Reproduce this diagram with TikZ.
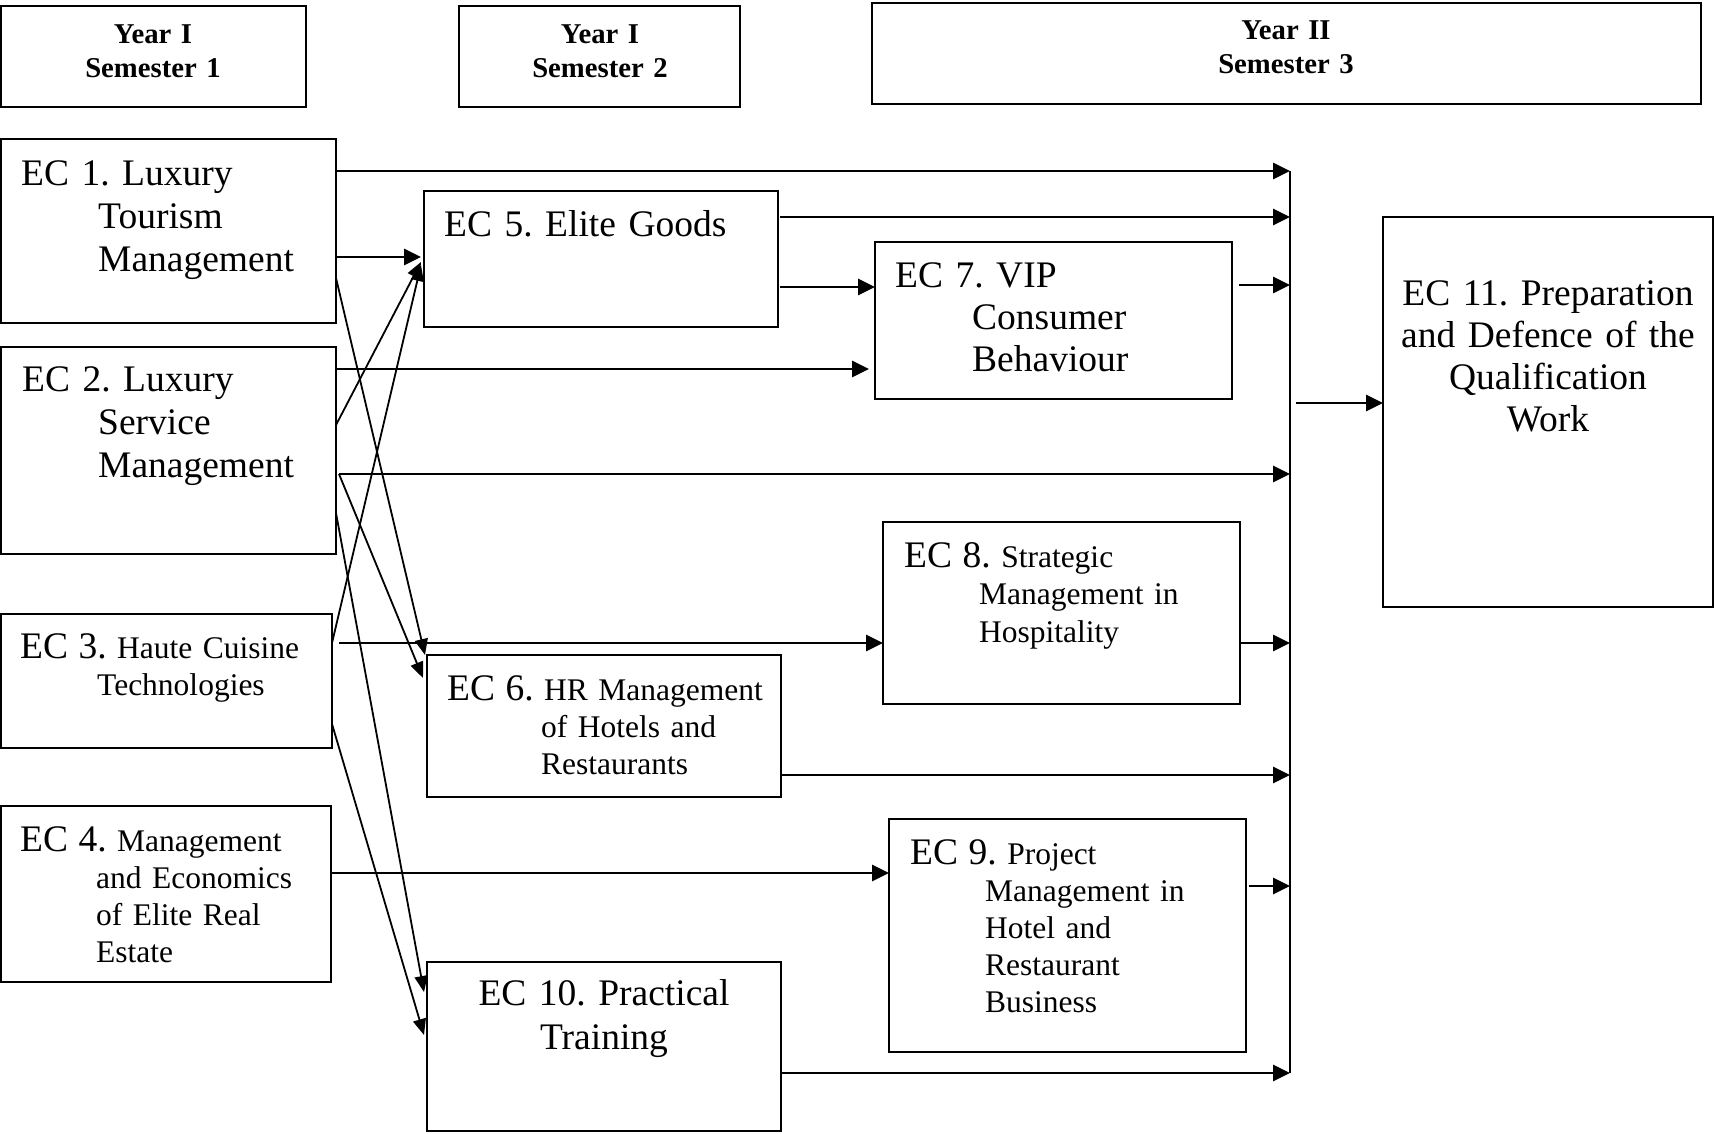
\documentclass[tikz,border=0pt]{standalone}
\usepackage{fontspec}
\setmainfont{Liberation Serif}
\usetikzlibrary{arrows.meta}
\frenchspacing
\newcommand{\bigf}{\fontsize{37.5}{43}\selectfont}
\newcommand{\smallf}{\fontsize{31.5}{37}\selectfont}
\begin{document}
\begin{tikzpicture}[x=1pt,y=-1pt,
  box/.style={draw,line width=1.7pt,inner sep=0pt,outer sep=0pt,anchor=north west},
  txt/.style={anchor=base west,inner sep=0pt,text width=420pt,align=left},
  ctxt/.style={anchor=base,inner sep=0pt,text width=420pt,align=center},
  hdr/.style={anchor=base,inner sep=0pt,text width=300pt,align=center,font=\fontsize{28.7}{34}\selectfont\bfseries},
  arr/.style={line width=2.8pt,-{Triangle[length=17pt,width=16pt]}},
  tarr/.style={line width=1.8pt,-{Triangle[length=16pt,width=13pt]}},
  busline/.style={line width=1.6pt}]
\useasboundingbox (0,0) rectangle (1715,1133);
% headers
\node[box,minimum width=305pt,minimum height=101pt] (h1) at (1,6) {};
\node[box,minimum width=281pt,minimum height=101pt] (h2) at (459,6) {};
\node[box,minimum width=829pt,minimum height=101pt] (h3) at (872,3) {};
\node[hdr] (h1t) at (153,43) {Year I\\Semester 1};
\node[hdr] (h2t) at (600,43) {Year I\\Semester 2};
\node[hdr] (h3t) at (1286,39) {Year II\\Semester 3};
% boxes
\node[box,minimum width=335pt,minimum height=184pt] (ec1) at (1,139) {};
\node[box,minimum width=335pt,minimum height=207pt] (ec2) at (1,347) {};
\node[box,minimum width=331pt,minimum height=134pt] (ec3) at (1,614) {};
\node[box,minimum width=330pt,minimum height=176pt] (ec4) at (1,806) {};
\node[box,minimum width=354pt,minimum height=136pt] (ec5) at (424,191) {};
\node[box,minimum width=354pt,minimum height=142pt] (ec6) at (427,655) {};
\node[box,minimum width=357pt,minimum height=157pt] (ec7) at (875,242) {};
\node[box,minimum width=357pt,minimum height=182pt] (ec8) at (883,522) {};
\node[box,minimum width=357pt,minimum height=233pt] (ec9) at (889,819) {};
\node[box,minimum width=354pt,minimum height=169pt] (ec10) at (427,962) {};
\node[box,minimum width=330pt,minimum height=390pt] (ec11) at (1383,217) {};
% texts
\node[txt,font=\bigf] (t1) at (21,185) {EC 1. Luxury\\\hspace*{77pt}Tourism\\\hspace*{77pt}Management};
\node[txt,font=\bigf] (t2) at (22,391) {EC 2. Luxury\\\hspace*{76pt}Service\\\hspace*{76pt}Management};
\node[txt,font=\smallf] (t3) at (20,658) {{\bigf EC 3.} Haute Cuisine\\\hspace*{77pt}Technologies};
\node[txt,font=\smallf] (t4) at (20,851) {{\bigf EC 4.} Management\\\hspace*{76pt}and Economics\\\hspace*{76pt}of Elite Real\\\hspace*{76pt}Estate};
\node[txt,font=\bigf] (t5) at (444,236) {EC 5. Elite Goods};
\node[txt,font=\smallf] (t6) at (447,700) {{\bigf EC 6.} HR Management\\\hspace*{94pt}of Hotels and\\\hspace*{94pt}Restaurants};
\node[txt,font=\fontsize{37.5}{42}\selectfont] (t7) at (895,287) {EC 7. VIP\\\hspace*{77pt}Consumer\\\hspace*{77pt}Behaviour};
\node[txt,font=\fontsize{31.5}{37.5}\selectfont] (t8) at (904,567) {{\bigf EC 8.} Strategic\\\hspace*{75pt}Management in\\\hspace*{75pt}Hospitality};
\node[txt,font=\smallf] (t9) at (910,864) {{\bigf EC 9.} Project\\\hspace*{75pt}Management in\\\hspace*{75pt}Hotel and\\\hspace*{75pt}Restaurant\\\hspace*{75pt}Business};
\node[ctxt,font=\fontsize{37.5}{44}\selectfont] (t10) at (604,1005) {EC 10. Practical\\Training};
\node[ctxt,font=\fontsize{37.5}{42.3}\selectfont] (t11) at (1548,305) {EC 11. Preparation\\and Defence of the\\Qualification\\Work};
% bus
\coordinate (bustop) at (1290,171);
\coordinate (busbot) at (1290,1073);
\draw[busline] (bustop) -- (busbot);
% horizontal arrows
\draw[arr] (ec1.east |- 0,171) -- (bustop);
\draw[arr] (ec1.east |- 0,257) -- ([xshift=-3pt]ec5.west |- 0,257);
\draw[arr] ([xshift=2pt]ec5.east |- 0,217) -- (bustop |- 0,217);
\draw[arr] ([xshift=2pt]ec5.east |- 0,287) -- (ec7.west |- 0,287);
\draw[arr] (ec2.east |- 0,369) -- ([xshift=-6pt]ec7.west |- 0,369);
\draw[arr] ([xshift=7pt]ec7.east |- 0,285) -- (bustop |- 0,285);
\draw[arr] ([xshift=3pt]ec2.east |- 0,474) -- (bustop |- 0,474);
\draw[arr] ([xshift=6pt]bustop |- 0,403) -- (ec11.west |- 0,403);
\draw[arr] ([xshift=7pt]ec3.east |- 0,643) -- (ec8.west |- 0,643);
\draw[arr] (ec8.east |- 0,643) -- (bustop |- 0,643);
\draw[arr] (ec6.east |- 0,775) -- (bustop |- 0,775);
\draw[arr] (ec4.east |- 0,873) -- (ec9.west |- 0,873);
\draw[arr] ([xshift=3pt]ec9.east |- 0,886) -- (bustop |- 0,886);
\draw[arr] (ec10.east |- 0,1073) -- (busbot);
% diagonal arrows
\draw[tarr] (ec1.east |- 0,278) -- ([xshift=-2pt]ec6.north west);
\draw[tarr] (ec2.east |- 0,425) -- ([xshift=-3pt]ec5.west |- 0,262);
\draw[tarr] (ec3.east |- 0,643) -- ([xshift=-3pt]ec5.west |- 0,265);
\draw[tarr] ([xshift=3pt]ec2.east |- 0,474) -- ([xshift=-4pt]ec6.west |- 0,678);
\draw[tarr] (ec2.east |- 0,513) -- ([xshift=-3pt]ec10.west |- 0,992);
\draw[tarr] (ec3.east |- 0,724) -- ([xshift=-3pt]ec10.west |- 0,1035);
\end{tikzpicture}
\end{document}
